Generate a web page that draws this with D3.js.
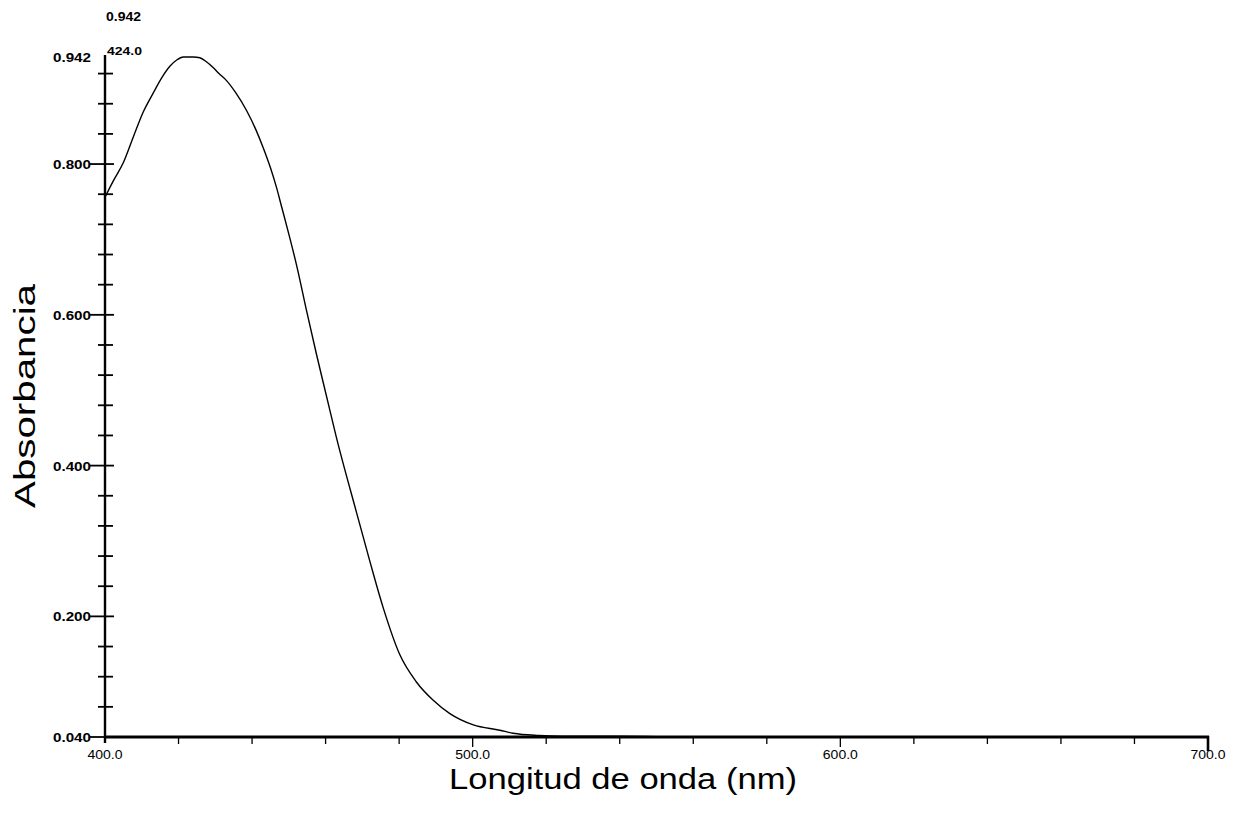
<!DOCTYPE html>
<html>
<head>
<meta charset="utf-8">
<script src="https://cdn.jsdelivr.net/npm/d3@7"></script>
<style>
  html, body { margin: 0; padding: 0; background: #fff; }
  svg { display: block; font-family: "Liberation Sans", Arial, sans-serif; }
</style>
</head>
<body>
<svg id="chart" width="1236" height="814"></svg>
<script>
// ---- data ----
const wavelengths = [400, 402.3, 405, 407.7, 410.4, 413.1, 415.5, 417.7, 419.5, 421.3, 424, 425.8, 427.5, 429.4, 431, 433, 435.5, 438.5, 441, 443, 445, 446.7, 448, 450, 452.1, 454.8, 457.5, 460.2, 462.9, 468.4, 472.1, 475.7, 480.2, 484.7, 489.2, 493.8, 500.2, 507.4, 511, 518, 524.5, 540, 560, 600, 650, 700];
const absorbance  = [0.756, 0.778, 0.802, 0.836, 0.869, 0.894, 0.915, 0.930, 0.938, 0.942, 0.942, 0.941, 0.936, 0.928, 0.920, 0.911, 0.895, 0.871, 0.846, 0.822, 0.795, 0.768, 0.744, 0.707, 0.666, 0.606, 0.548, 0.493, 0.438, 0.338, 0.272, 0.211, 0.149, 0.113, 0.089, 0.071, 0.056, 0.049, 0.045, 0.042, 0.041, 0.041, 0.040, 0.040, 0.040, 0.040];

const xMinorTicks = [420, 440, 460, 480, 500, 520, 540, 560, 580, 600, 620, 640, 660, 680];
const xMajorTicks = [500, 600];
const xLabelValues = [400, 500, 600, 700];
const xLabelText = ["400.0", "500.0", "600.0", "700.0"];

const yMinorTicks = [0.08, 0.12, 0.16, 0.24, 0.28, 0.32, 0.36, 0.44, 0.48, 0.52, 0.56, 0.64, 0.68, 0.72, 0.76, 0.84, 0.88, 0.92];
const yMajorTicks = [0.04, 0.2, 0.4, 0.6, 0.8];
const yLabelValues = [0.04, 0.2, 0.4, 0.6, 0.8, 0.942];
const yLabelText = ["0.040", "0.200", "0.400", "0.600", "0.800", "0.942"];

const peakWavelength = "424.0";
const peakAbsorbance = "0.942";
const xTitle = "Longitud de onda (nm)";
const yTitle = "Absorbancia";

// ---- drawing ----
const svg = d3.select("#chart");
const x = d3.scaleLinear().domain([400, 700]).range([105, 1208]);
const y = d3.scaleLinear().domain([0.04, 0.942]).range([737, 57]);
const x0 = x(400), yBase = y(0.04);

// y minor ticks (crossing the axis)
svg.append("g").selectAll("line").data(yMinorTicks).join("line")
  .attr("x1", x0 - 7).attr("x2", x0 + 8)
  .attr("y1", d => y(d)).attr("y2", d => y(d))
  .attr("stroke", "#000").attr("stroke-width", 1.8);
// y major ticks
svg.append("g").selectAll("line").data(yMajorTicks).join("line")
  .attr("x1", x0 - 15).attr("x2", d => d === 0.04 ? x0 : x0 + 9)
  .attr("y1", d => y(d)).attr("y2", d => y(d))
  .attr("stroke", "#000").attr("stroke-width", 1.8);

// x ticks (below the axis)
svg.append("g").selectAll("line").data(xMinorTicks).join("line")
  .attr("x1", d => x(d)).attr("x2", d => x(d))
  .attr("y1", yBase).attr("y2", d => xMajorTicks.includes(d) ? yBase + 10 : yBase + 7)
  .attr("stroke", "#000").attr("stroke-width", 1.3);
// end tick at 700
svg.append("line")
  .attr("x1", x(700)).attr("x2", x(700))
  .attr("y1", yBase - 1).attr("y2", yBase + 14)
  .attr("stroke", "#000").attr("stroke-width", 2.6);

// axis lines
svg.append("line")
  .attr("x1", x0).attr("x2", x0).attr("y1", y(0.942) - 2).attr("y2", yBase + 6)
  .attr("stroke", "#000").attr("stroke-width", 2.4);
svg.append("line")
  .attr("x1", x0 - 1).attr("x2", x(700) + 1).attr("y1", yBase).attr("y2", yBase)
  .attr("stroke", "#000").attr("stroke-width", 3);

// spectrum
const line = d3.line().x((d, i) => x(wavelengths[i])).y(d => y(d)).curve(d3.curveMonotoneX);
svg.append("path").datum(absorbance)
  .attr("d", line).attr("fill", "none").attr("stroke", "#000").attr("stroke-width", 1.4);

// y labels
svg.append("g").selectAll("text").data(yLabelValues).join("text")
  .attr("x", x0 - 14).attr("y", d => y(d) + 5)
  .attr("text-anchor", "end")
  .attr("font-size", 12).attr("font-weight", "bold")
  .attr("textLength", 38).attr("lengthAdjust", "spacingAndGlyphs")
  .text((d, i) => yLabelText[i]);

// x labels
svg.append("g").selectAll("text").data(xLabelValues).join("text")
  .attr("x", d => x(d)).attr("y", yBase + 22)
  .attr("text-anchor", "middle")
  .attr("font-size", 12)
  .attr("textLength", 35).attr("lengthAdjust", "spacingAndGlyphs")
  .text((d, i) => xLabelText[i]);

// peak annotations
svg.append("text")
  .attr("x", x0 + 2).attr("y", y(0.942) - 2)
  .attr("font-size", 11).attr("font-weight", "bold")
  .attr("textLength", 35).attr("lengthAdjust", "spacingAndGlyphs")
  .text(peakWavelength);
svg.append("text")
  .attr("x", x0 + 1).attr("y", 21)
  .attr("font-size", 12).attr("font-weight", "bold")
  .attr("textLength", 35).attr("lengthAdjust", "spacingAndGlyphs")
  .text(peakAbsorbance);

// axis titles
svg.append("text")
  .attr("x", 623).attr("y", 789)
  .attr("text-anchor", "middle")
  .attr("font-size", 29)
  .attr("textLength", 348).attr("lengthAdjust", "spacingAndGlyphs")
  .text(xTitle);
svg.append("text")
  .attr("transform", "translate(35,396) rotate(-90)")
  .attr("text-anchor", "middle")
  .attr("font-size", 30)
  .attr("textLength", 224).attr("lengthAdjust", "spacingAndGlyphs")
  .text(yTitle);
</script>
</body>
</html>
